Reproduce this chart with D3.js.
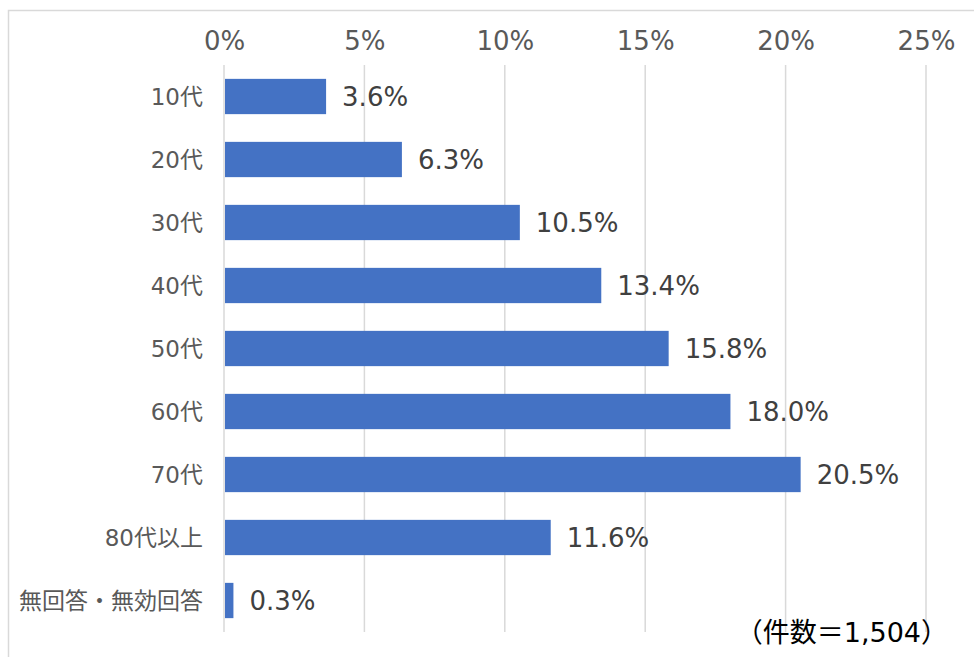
<!DOCTYPE html>
<html><head><meta charset="utf-8">
<script src="https://cdn.jsdelivr.net/npm/d3@7"></script>
<style>body{margin:0;background:#fff;} svg{display:block;}</style>
</head><body>
<svg id="c" width="974" height="657"></svg>
<script>
const categories = ["10代","20代","30代","40代","50代","60代","70代","80代以上","無回答・無効回答"];
const values = [3.6, 6.3, 10.5, 13.4, 15.8, 18.0, 20.5, 11.6, 0.3];
const tickValues = [0, 5, 10, 15, 20, 25];
const note = "（件数＝1,504）";

const font = "'DejaVu Sans','Noto Sans CJK JP',sans-serif";
const svg = d3.select("#c");
const m = {left:224, right:926, top:65, bottom:632};

// frame (right/bottom edges lie off-canvas)
svg.append("rect").attr("x",8.5).attr("y",10.5).attr("width",1000).attr("height",700)
  .attr("fill","#fff").attr("stroke","#d9d9d9").attr("stroke-width",1.5);

const x = d3.scaleLinear().domain([0,25]).range([m.left,m.right]);
const y = d3.scaleBand().domain(categories).range([m.top,m.bottom]).paddingInner(0.44).paddingOuter(0.22);

// gridlines
svg.append("g").selectAll("line").data(tickValues).join("line")
  .attr("x1",d=>x(d)).attr("x2",d=>x(d)).attr("y1",m.top).attr("y2",m.bottom)
  .attr("stroke","#d9d9d9").attr("stroke-width",1.5);

// top axis labels
const ax = svg.append("g").attr("transform",`translate(0,${m.top})`)
  .call(d3.axisTop(x).tickValues(tickValues).tickFormat(d=>d+"%").tickSize(0).tickPadding(15));
ax.select(".domain").remove();
ax.selectAll("text").attr("font-family",font).attr("font-size",26).attr("fill","#595959");

// left labels
const ay = svg.append("g").attr("transform",`translate(${m.left},0)`)
  .call(d3.axisLeft(y).tickSize(0).tickPadding(21));
ay.select(".domain").remove();
ay.selectAll("text").attr("font-family",font).attr("font-size",23).attr("fill","#595959").attr("dy","0.36em");

// bars
svg.append("g").selectAll("rect").data(values).join("rect")
  .attr("x",x(0)+1).attr("y",(d,i)=>y(categories[i]))
  .attr("width",d=>x(d)-x(0)).attr("height",y.bandwidth())
  .attr("fill","#4472C4");

// value labels
svg.append("g").selectAll("text").data(values).join("text")
  .attr("x",d=>x(d)+17).attr("y",(d,i)=>y(categories[i])+y.bandwidth()/2)
  .attr("dy","0.36em").attr("font-family",font).attr("font-size",26).attr("fill","#404040")
  .text(d=>d.toFixed(1)+"%");

// note
svg.append("text").attr("x",948).attr("y",642).attr("text-anchor","end")
  .attr("font-family",font).attr("font-size",27).attr("fill","#000").text(note);
</script>
</body></html>
